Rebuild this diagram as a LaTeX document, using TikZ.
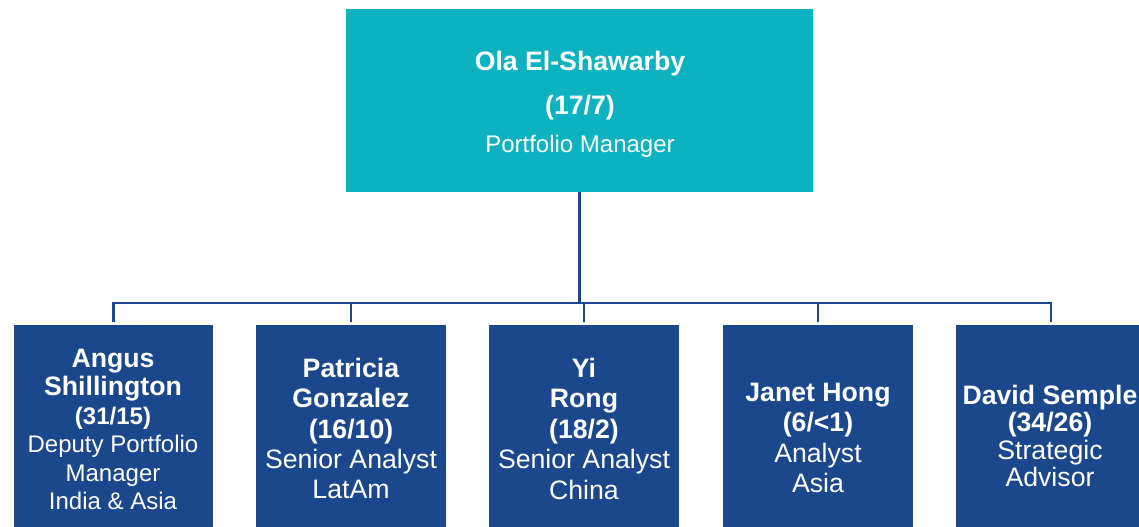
\documentclass[tikz,border=0pt]{standalone}
\usepackage{fontspec}
\setmainfont{Liberation Sans}
\definecolor{leadteal}{RGB}{12,178,192}
\definecolor{teamblue}{RGB}{27,71,140}
\newcommand{\who}[1]{{\fontsize{20}{24}\selectfont\bfseries #1}}
\tikzset{
  lead/.style={fill=leadteal, minimum width=350.25pt, minimum height=137.25pt, inner sep=0pt},
  member/.style={fill=teamblue, minimum width=142.5pt, minimum height=157.5pt, inner sep=0pt},
  boxtext/.style={text=white, align=center, inner sep=0pt},
  link/.style={draw=teamblue, line width=2.2pt},
}

\begin{document}
\begin{tikzpicture}[x=0.75pt,y=0.75pt,yscale=-1,xscale=1]
\useasboundingbox (0,0) rectangle (1139,527);
\clip (0,0) rectangle (1139,527);

%Shape: Rectangle [lead]
\node[lead] (ola) at (579.5,100.5) {};
%Shape: Rectangle [team]
\node[member, minimum width=149.25pt] (angus) at (113.5,430) {};
\node[member] (patricia) at (351,430) {};
\node[member] (yi) at (584,430) {};
\node[member] (janet) at (818,430) {};
\node[member] (david) at (1051,430) {};

%Straight Lines
\coordinate (bus) at (580,303);
\coordinate (gap) at (580,322);
\draw[link] (ola.south) -- (ola.south |- bus);
\draw[link] (angus.north |- gap) -- (angus.north |- bus) -- (david.north |- bus) -- (david.north |- gap);
\draw[link] (patricia.north |- bus) -- (patricia.north |- gap);
\draw[link] (yi.north |- bus) -- (yi.north |- gap);
\draw[link] (janet.north |- bus) -- (janet.north |- gap);

% Text Node
\node[boxtext, font=\fontsize{18}{28.3}\selectfont] (ola-txt) at (580,104)
  {\who{Ola El-Shawarby}\\[4.7pt] \who{(17/7)}\\ Portfolio Manager};
% Text Node
\node[boxtext, font=\fontsize{18}{21.35}\selectfont] (angus-txt) at (113,429.6)
  {\who{Angus}\\ \who{Shillington}\\ \textbf{(31/15)}\\ Deputy Portfolio\\ Manager\\ India \& Asia};
% Text Node
\node[boxtext, font=\fontsize{20}{22.7}\selectfont] (patricia-txt) at (351,428.6)
  {\textbf{Patricia}\\ \textbf{Gonzalez}\\ \textbf{(16/10)}\\ Senior Analyst\\ LatAm};
% Text Node
\node[boxtext, font=\fontsize{20}{22.8}\selectfont] (yi-txt) at (584,428.7)
  {\textbf{Yi}\\ \textbf{Rong}\\ \textbf{(18/2)}\\ Senior Analyst\\ China};
% Text Node
\node[boxtext, font=\fontsize{20}{22.9}\selectfont] (janet-txt) at (818,438)
  {\textbf{Janet Hong}\\ \textbf{(6/<1)}\\ Analyst\\ Asia};
% Text Node
\node[boxtext, font=\fontsize{20}{20.3}\selectfont] (david-txt) at (1050,436)
  {\textbf{David Semple}\\ \textbf{(34/26)}\\ Strategic\\ Advisor};

\end{tikzpicture}
\end{document}
